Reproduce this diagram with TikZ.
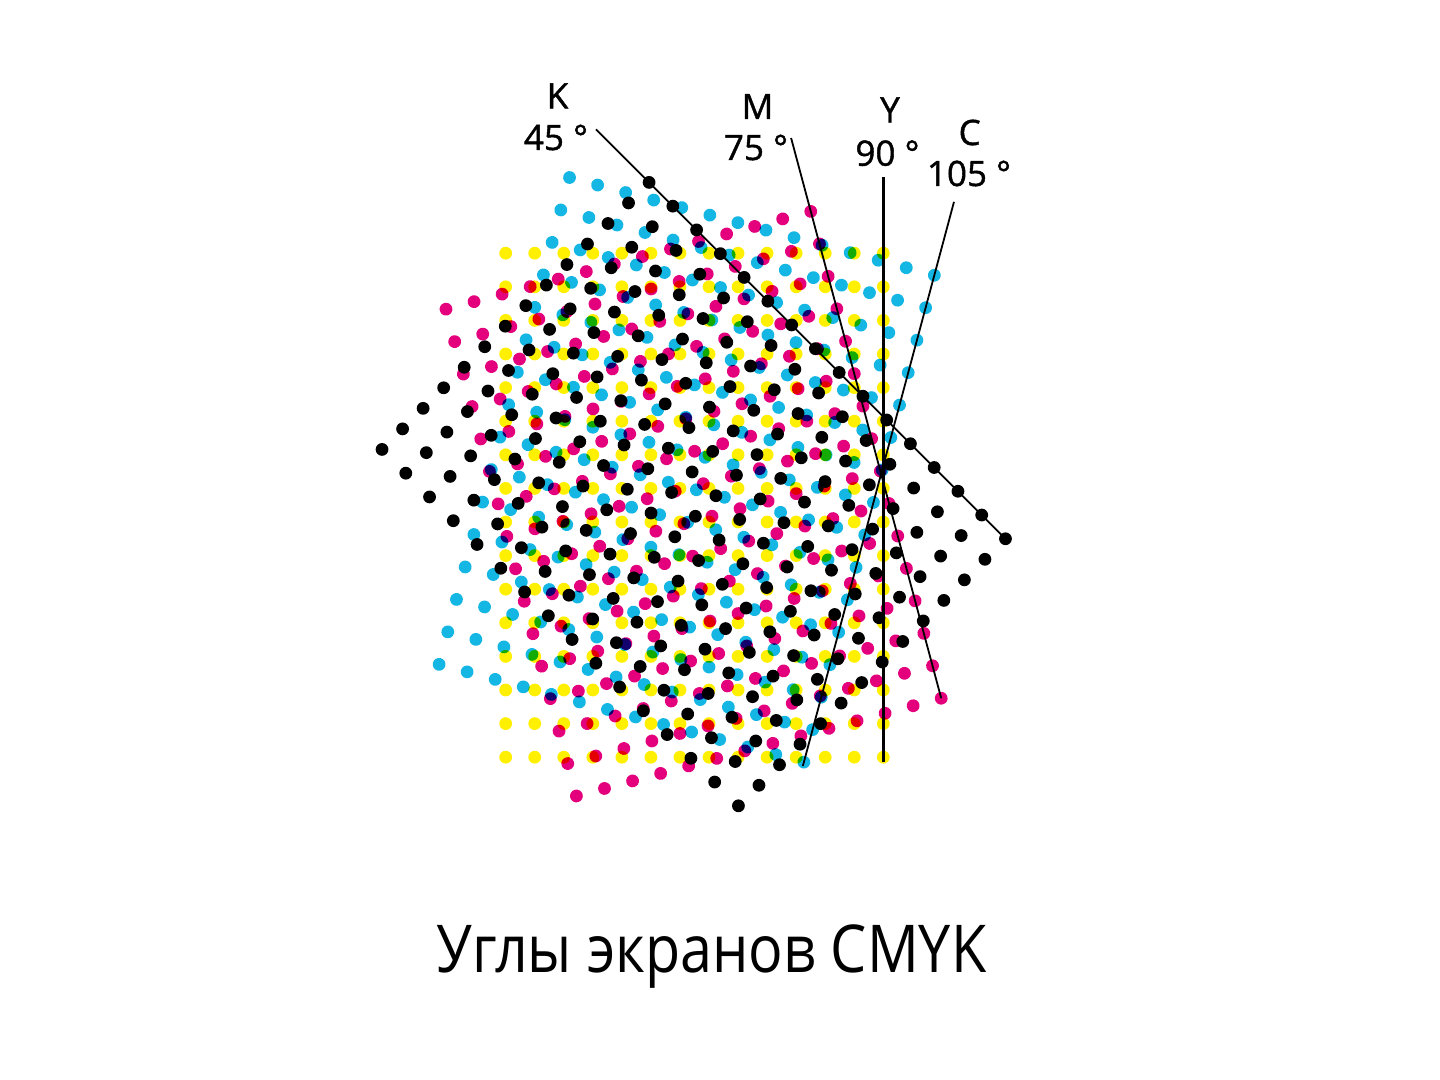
\documentclass[tikz,border=0pt]{standalone}
\usepackage{fontspec}
\setmainfont{Open Sans}
\newfontfamily\titlefont{Open Sans}[FakeStretch=0.87]
\newfontfamily\labfont{Open Sans}[FakeBold=1.2]
\definecolor{dotC}{RGB}{20,182,228}
\definecolor{dotM}{RGB}{228,0,124}
\definecolor{dotY}{RGB}{255,240,0}
\definecolor{dotK}{RGB}{0,0,0}
\def\gsx{29.05}
\def\gsy{33.6}
\newcommand\dotgrid[1]{%
  \foreach \i in {0,...,13}{%
    \foreach \j in {0,...,15}{%
      \fill[#1] ({(\i-6.5)*\gsx},{(\j-7.5)*\gsy}) circle[radius=3.2pt];}}}
\begin{document}
\begin{tikzpicture}[x=0.5pt,y=-0.5pt,
  lab/.style={anchor=base, inner sep=0pt, font=\labfont\fontsize{17.5}{20}\selectfont},
  angleline/.style={draw=black, line width=0.9pt},
  yline/.style={draw=black, line width=1.7pt}]
\path[use as bounding box, fill=white] (0,0) rectangle (1440,1080);
% Yellow 90
\begin{scope}[shift={(694.5,505.2)}, blend mode=multiply]
  \dotgrid{dotY}
  \coordinate (ytop) at ({6.5*\gsx},{-7.5*\gsy-76});
  \coordinate (yend) at ({6.5*\gsx},{7.5*\gsy+4.5});
\end{scope}
% Magenta 75
\begin{scope}[shift={(693.6,503.7)}, rotate=15, blend mode=multiply]
  \dotgrid{dotM}
  \coordinate (mtop) at ({6.5*\gsx},{-7.5*\gsy-76});
  \coordinate (mend) at ({6.5*\gsx},{7.5*\gsy});
\end{scope}
% Cyan 105
\begin{scope}[shift={(686.7,469.8)}, rotate=-15, blend mode=multiply]
  \dotgrid{dotC}
  \coordinate (ctop) at ({6.5*\gsx},{-7.5*\gsy-76});
  \coordinate (cend) at ({6.5*\gsx},{7.5*\gsy+4});
\end{scope}
% Black 45
\begin{scope}[shift={(693.75,494.1)}, rotate=45]
  \dotgrid{dotK}
  \coordinate (ktop) at ({6.5*\gsx},{-7.5*\gsy-75});
  \coordinate (kend) at ({6.5*\gsx},{7.5*\gsy});
\end{scope}
% lines
\draw[angleline] (ktop) -- (kend);
\draw[angleline] (mtop) -- (mend);
\draw[yline] (ytop) -- (yend);
\draw[angleline] (ctop) -- (cend);
% labels
\node[lab] (kname) at (557.5,108.3) {K};
\node[lab] (kang) at (556,150) {45 °};
\node[lab] (mname) at (757.5,119) {M};
\node[lab] (mang) at (756,160) {75 °};
\node[lab] (yname) at (890,122.3) {Y};
\node[lab] (yang) at (887.5,165.7) {90 °};
\node[lab] (cname) at (969.7,145) {C};
\node[lab] (cang) at (969,186) {105 °};
% title
\node[anchor=base, inner sep=0pt, font=\titlefont\fontsize{33}{40}\selectfont] (title) at (711.5,972) {Углы экранов CMYK};
\end{tikzpicture}
\end{document}
